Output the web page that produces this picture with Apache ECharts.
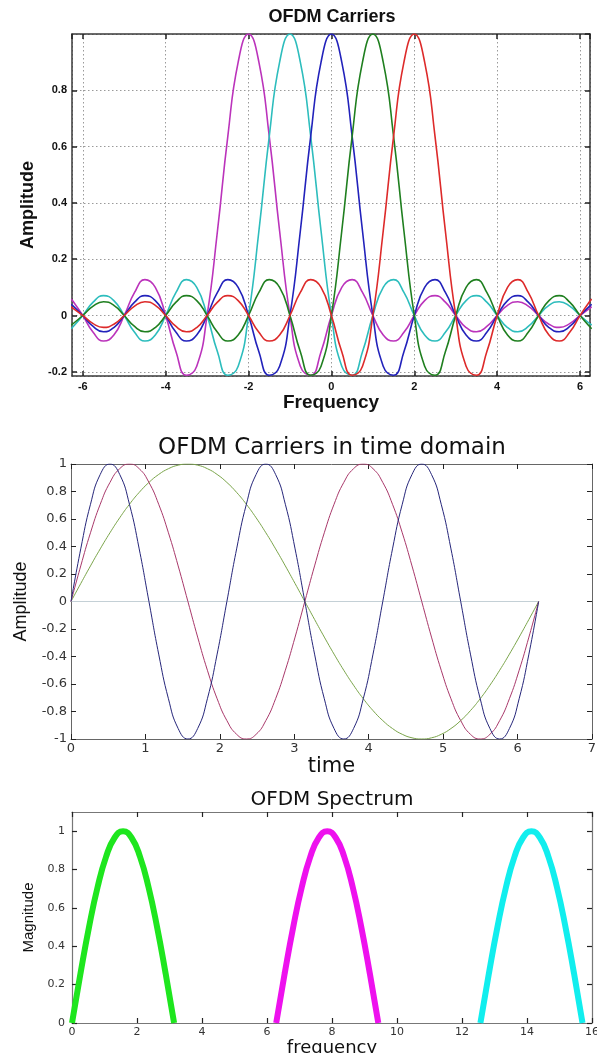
<!DOCTYPE html>
<html>
<head>
<meta charset="utf-8">
<script src="https://cdn.jsdelivr.net/npm/echarts@6/dist/echarts.min.js"></script>
<style>html,body{margin:0;padding:0;background:#fff}#c{width:597px;height:1053px}</style>
</head>
<body>
<div id="c"></div>
<script>
// ---------- Panel 1: OFDM Carriers (frequency) ----------
const freqX = [-6.2832, -6.25, -6, -5.75, -5.5, -5.25, -5, -4.75, -4.5, -4.25, -4, -3.75, -3.5, -3.25, -3, -2.75, -2.5, -2.25, -2, -1.75, -1.5, -1.25, -1, -0.75, -0.5, -0.25, 0, 0.25, 0.5, 0.75, 1, 1.25, 1.5, 1.75, 2, 2.25, 2.5, 2.75, 3, 3.25, 3.5, 3.75, 4, 4.25, 4.5, 4.75, 5, 5.25, 5.5, 5.75, 6, 6.25, 6.2832];
const carrierMagenta = [0.0578, 0.0530, 0, -0.0600, -0.0909, -0.0693, 0, 0.0818, 0.1273, 0.1000, 0, -0.1286, -0.2122, -0.1801, 0, 0.3001, 0.6366, 0.9003, 1, 0.9003, 0.6366, 0.3001, 0, -0.1801, -0.2122, -0.1286, 0, 0.1000, 0.1273, 0.0818, 0, -0.0693, -0.0909, -0.0600, 0, 0.0530, 0.0707, 0.0474, 0, -0.0429, -0.0579, -0.0391, 0, 0.0360, 0.0490, 0.0333, 0, -0.0310, -0.0424, -0.0290, 0, 0.0273, 0.0298];
const carrierCyan = [-0.0468, -0.0429, 0, 0.0474, 0.0707, 0.0530, 0, -0.0600, -0.0909, -0.0693, 0, 0.0818, 0.1273, 0.1000, 0, -0.1286, -0.2122, -0.1801, 0, 0.3001, 0.6366, 0.9003, 1, 0.9003, 0.6366, 0.3001, 0, -0.1801, -0.2122, -0.1286, 0, 0.1000, 0.1273, 0.0818, 0, -0.0693, -0.0909, -0.0600, 0, 0.0530, 0.0707, 0.0474, 0, -0.0429, -0.0579, -0.0391, 0, 0.0360, 0.0490, 0.0333, 0, -0.0310, -0.0340];
const carrierBlue = [0.0394, 0.0360, 0, -0.0391, -0.0579, -0.0429, 0, 0.0474, 0.0707, 0.0530, 0, -0.0600, -0.0909, -0.0693, 0, 0.0818, 0.1273, 0.1000, 0, -0.1286, -0.2122, -0.1801, 0, 0.3001, 0.6366, 0.9003, 1, 0.9003, 0.6366, 0.3001, 0, -0.1801, -0.2122, -0.1286, 0, 0.1000, 0.1273, 0.0818, 0, -0.0693, -0.0909, -0.0600, 0, 0.0530, 0.0707, 0.0474, 0, -0.0429, -0.0579, -0.0391, 0, 0.0360, 0.0394];
const carrierGreen = [-0.0340, -0.0310, 0, 0.0333, 0.0490, 0.0360, 0, -0.0391, -0.0579, -0.0429, 0, 0.0474, 0.0707, 0.0530, 0, -0.0600, -0.0909, -0.0693, 0, 0.0818, 0.1273, 0.1000, 0, -0.1286, -0.2122, -0.1801, 0, 0.3001, 0.6366, 0.9003, 1, 0.9003, 0.6366, 0.3001, 0, -0.1801, -0.2122, -0.1286, 0, 0.1000, 0.1273, 0.0818, 0, -0.0693, -0.0909, -0.0600, 0, 0.0530, 0.0707, 0.0474, 0, -0.0429, -0.0468];
const carrierRed = [0.0298, 0.0273, 0, -0.0290, -0.0424, -0.0310, 0, 0.0333, 0.0490, 0.0360, 0, -0.0391, -0.0579, -0.0429, 0, 0.0474, 0.0707, 0.0530, 0, -0.0600, -0.0909, -0.0693, 0, 0.0818, 0.1273, 0.1000, 0, -0.1286, -0.2122, -0.1801, 0, 0.3001, 0.6366, 0.9003, 1, 0.9003, 0.6366, 0.3001, 0, -0.1801, -0.2122, -0.1286, 0, 0.1000, 0.1273, 0.0818, 0, -0.0693, -0.0909, -0.0600, 0, 0.0530, 0.0578];

// ---------- Panel 2: OFDM Carriers in time domain ----------
const timeX = [0, 0.1309, 0.2618, 0.3927, 0.5236, 0.6545, 0.7854, 0.9163, 1.0472, 1.1781, 1.3090, 1.4399, 1.5708, 1.7017, 1.8326, 1.9635, 2.0944, 2.2253, 2.3562, 2.4871, 2.6180, 2.7489, 2.8798, 3.0107, 3.1416, 3.2725, 3.4034, 3.5343, 3.6652, 3.7961, 3.9270, 4.0579, 4.1888, 4.3197, 4.4506, 4.5815, 4.7124, 4.8433, 4.9742, 5.1051, 5.2360, 5.3669, 5.4978, 5.6287, 5.7596, 5.8905, 6.0214, 6.1523, 6.2832];
const timeGreen = [0, 0.1305, 0.2588, 0.3827, 0.5, 0.6088, 0.7071, 0.7934, 0.8660, 0.9239, 0.9659, 0.9914, 1, 0.9914, 0.9659, 0.9239, 0.8660, 0.7934, 0.7071, 0.6088, 0.5, 0.3827, 0.2588, 0.1305, 0, -0.1305, -0.2588, -0.3827, -0.5, -0.6088, -0.7071, -0.7934, -0.8660, -0.9239, -0.9659, -0.9914, -1, -0.9914, -0.9659, -0.9239, -0.8660, -0.7934, -0.7071, -0.6088, -0.5, -0.3827, -0.2588, -0.1305, 0];
const timeRed = [0, 0.2588, 0.5, 0.7071, 0.8660, 0.9659, 1, 0.9659, 0.8660, 0.7071, 0.5, 0.2588, 0, -0.2588, -0.5, -0.7071, -0.8660, -0.9659, -1, -0.9659, -0.8660, -0.7071, -0.5, -0.2588, 0, 0.2588, 0.5, 0.7071, 0.8660, 0.9659, 1, 0.9659, 0.8660, 0.7071, 0.5, 0.2588, 0, -0.2588, -0.5, -0.7071, -0.8660, -0.9659, -1, -0.9659, -0.8660, -0.7071, -0.5, -0.2588, 0];
const timeBlue = [0, 0.3827, 0.7071, 0.9239, 1, 0.9239, 0.7071, 0.3827, 0, -0.3827, -0.7071, -0.9239, -1, -0.9239, -0.7071, -0.3827, 0, 0.3827, 0.7071, 0.9239, 1, 0.9239, 0.7071, 0.3827, 0, -0.3827, -0.7071, -0.9239, -1, -0.9239, -0.7071, -0.3827, 0, 0.3827, 0.7071, 0.9239, 1, 0.9239, 0.7071, 0.3827, 0, -0.3827, -0.7071, -0.9239, -1, -0.9239, -0.7071, -0.3827, 0];
const zeroLineX = [0, 6.2832];
const zeroLineY = [0, 0];

// ---------- Panel 3: OFDM Spectrum ----------
const specGreenX = [0, 0.2618, 0.5236, 0.7854, 1.0472, 1.3090, 1.5708, 1.8326, 2.0944, 2.3562, 2.6180, 2.8798, 3.1416];
const specGreenY = [0, 0.2588, 0.5, 0.7071, 0.8660, 0.9659, 1, 0.9659, 0.8660, 0.7071, 0.5, 0.2588, 0];
const specMagentaX = [6.2832, 6.5450, 6.8068, 7.0686, 7.3304, 7.5922, 7.8540, 8.1158, 8.3776, 8.6394, 8.9012, 9.1630, 9.4248];
const specMagentaY = [0, 0.2588, 0.5, 0.7071, 0.8660, 0.9659, 1, 0.9659, 0.8660, 0.7071, 0.5, 0.2588, 0];
const specCyanX = [12.5664, 12.8282, 13.0900, 13.3518, 13.6136, 13.8754, 14.1372, 14.3990, 14.6608, 14.9226, 15.1844, 15.4462, 15.7080];
const specCyanY = [0, 0.2588, 0.5, 0.7071, 0.8660, 0.9659, 1, 0.9659, 0.8660, 0.7071, 0.5, 0.2588, 0];

function pairs(xs, ys) { return xs.map((x, i) => [x, ys[i]]); }

const ARIAL = '"Liberation Sans", Arial, sans-serif';
const WIDE = '"DejaVu Sans", Verdana, sans-serif';

function frameAxis(base, extra) {
  return Object.assign({
    type: 'value',
    axisLine: { show: true, onZero: false, lineStyle: { color: base.frame, width: base.fw } },
    axisTick: { show: true, inside: true, length: 5, lineStyle: { color: base.tick, width: base.fw } },
    splitLine: { show: false },
    axisLabel: { show: false }
  }, extra);
}

const p1 = { frame: '#3a3a3a', tick: '#222', fw: 1.5 };
const p2 = { frame: '#666', tick: '#222', fw: 1 };
const p3 = { frame: '#777', tick: '#222', fw: 1.2 };

const dotted = { show: true, lineStyle: { type: [1.5, 2.5], color: '#9a9a9a', width: 1 } };

const xAxes = [
  frameAxis(p1, { gridIndex: 0, position: 'bottom', min: -6.26, max: 6.24, splitNumber: 6,
    splitLine: dotted,
    axisLabel: { show: true, fontFamily: ARIAL, fontWeight: 'bold', fontSize: 11, color: '#111', margin: 5, showMinLabel: false, showMaxLabel: false },
    name: 'Frequency', nameLocation: 'middle', nameGap: 16,
    nameTextStyle: { fontFamily: ARIAL, fontWeight: 'bold', fontSize: 19, color: '#111' } }),
  frameAxis(p1, { gridIndex: 0, position: 'top', min: -6.26, max: 6.24, splitNumber: 6 }),
  frameAxis(p2, { gridIndex: 1, position: 'bottom', min: 0, max: 7, interval: 1,
    axisLabel: { show: true, fontFamily: WIDE, fontSize: 13, color: '#333', margin: 3 },
    name: 'time', nameLocation: 'middle', nameGap: 15,
    nameTextStyle: { fontFamily: WIDE, fontSize: 21, color: '#111' } }),
  frameAxis(p2, { gridIndex: 1, position: 'top', min: 0, max: 7, interval: 1 }),
  frameAxis(p3, { gridIndex: 2, position: 'bottom', min: 0, max: 16, interval: 2,
    axisLabel: { show: true, fontFamily: WIDE, fontSize: 11, color: '#333', margin: 4 },
    name: 'frequency', nameLocation: 'middle', nameGap: 10,
    nameTextStyle: { fontFamily: WIDE, fontSize: 18, color: '#111' } }),
  frameAxis(p3, { gridIndex: 2, position: 'top', min: 0, max: 16, interval: 2 })
];

const yAxes = [
  frameAxis(p1, { gridIndex: 0, position: 'left', min: -0.215, max: 1, splitNumber: 6,
    splitLine: dotted,
    axisLabel: { show: true, fontFamily: ARIAL, fontWeight: 'bold', fontSize: 11, color: '#111', margin: 5, showMinLabel: false, showMaxLabel: false },
    name: 'Amplitude', nameLocation: 'middle', nameGap: 31, nameRotate: 90,
    nameTextStyle: { fontFamily: ARIAL, fontWeight: 'bold', fontSize: 18, color: '#111' } }),
  frameAxis(p1, { gridIndex: 0, position: 'right', min: -0.215, max: 1, splitNumber: 6 }),
  frameAxis(p2, { gridIndex: 1, position: 'left', min: -1, max: 1, interval: 0.2,
    axisLabel: { show: true, fontFamily: WIDE, fontSize: 13, color: '#333', margin: 4 },
    name: 'Amplitude', nameLocation: 'middle', nameGap: 41, nameRotate: 90,
    nameTextStyle: { fontFamily: ARIAL, fontSize: 18, color: '#111' } }),
  frameAxis(p2, { gridIndex: 1, position: 'right', min: -1, max: 1, interval: 0.2 }),
  frameAxis(p3, { gridIndex: 2, position: 'left', min: 0, max: 1.1, interval: 0.2,
    axisLabel: { show: true, fontFamily: WIDE, fontSize: 11, color: '#333', margin: 7, showMaxLabel: false },
    name: 'Magnitude', nameLocation: 'middle', nameGap: 35, nameRotate: 90,
    nameTextStyle: { fontFamily: ARIAL, fontSize: 15, color: '#111' } }),
  frameAxis(p3, { gridIndex: 2, position: 'right', min: 0, max: 1.1, interval: 0.2 })
];

function lineSeries(xIdx, yIdx, data, color, width) {
  return {
    type: 'line', xAxisIndex: xIdx, yAxisIndex: yIdx, data: data,
    smooth: true, showSymbol: false, symbol: 'none', clip: true,
    lineStyle: { color: color, width: width }, itemStyle: { color: color },
    silent: true
  };
}

const series = [
  lineSeries(0, 0, pairs(freqX, carrierMagenta), '#bb33bb', 1.6),
  lineSeries(0, 0, pairs(freqX, carrierCyan), '#2dbdbd', 1.6),
  lineSeries(0, 0, pairs(freqX, carrierBlue), '#2222bb', 1.6),
  lineSeries(0, 0, pairs(freqX, carrierGreen), '#1f7f1f', 1.6),
  lineSeries(0, 0, pairs(freqX, carrierRed), '#dd2a2a', 1.6),
  Object.assign(lineSeries(2, 2, pairs(zeroLineX, zeroLineY), '#c4d0d6', 1.2), { smooth: false }),
  lineSeries(2, 2, pairs(timeX, timeGreen), '#7aa44a', 1),
  lineSeries(2, 2, pairs(timeX, timeRed), '#a8386a', 1),
  lineSeries(2, 2, pairs(timeX, timeBlue), '#26267a', 1),
  lineSeries(4, 4, pairs(specGreenX, specGreenY), '#1ee61e', 6),
  lineSeries(4, 4, pairs(specMagentaX, specMagentaY), '#ee11ee', 6),
  lineSeries(4, 4, pairs(specCyanX, specCyanY), '#11eeee', 6)
];

const chart = echarts.init(document.getElementById('c'), null, { renderer: 'canvas' });
chart.setOption({
  animation: false,
  backgroundColor: '#ffffff',
  grid: [
    { left: 72, top: 34, width: 518, height: 342, outerBoundsMode: 'none' },
    { left: 71, top: 464, width: 521, height: 275, outerBoundsMode: 'none' },
    { left: 72, top: 812, width: 520, height: 211, outerBoundsMode: 'none' }
  ],
  graphic: [
    { type: 'text', x: 332, y: 17, style: { text: 'OFDM Carriers', font: 'bold 18px ' + ARIAL, fill: '#111', align: 'center', verticalAlign: 'middle' } },
    { type: 'text', x: 332, y: 448, style: { text: 'OFDM Carriers in time domain', font: '23px ' + WIDE, fill: '#111', align: 'center', verticalAlign: 'middle' } },
    { type: 'text', x: 332, y: 800, style: { text: 'OFDM Spectrum', font: '20px ' + WIDE, fill: '#111', align: 'center', verticalAlign: 'middle' } }
  ],
  xAxis: xAxes,
  yAxis: yAxes,
  series: series
});
</script>
</body>
</html>
